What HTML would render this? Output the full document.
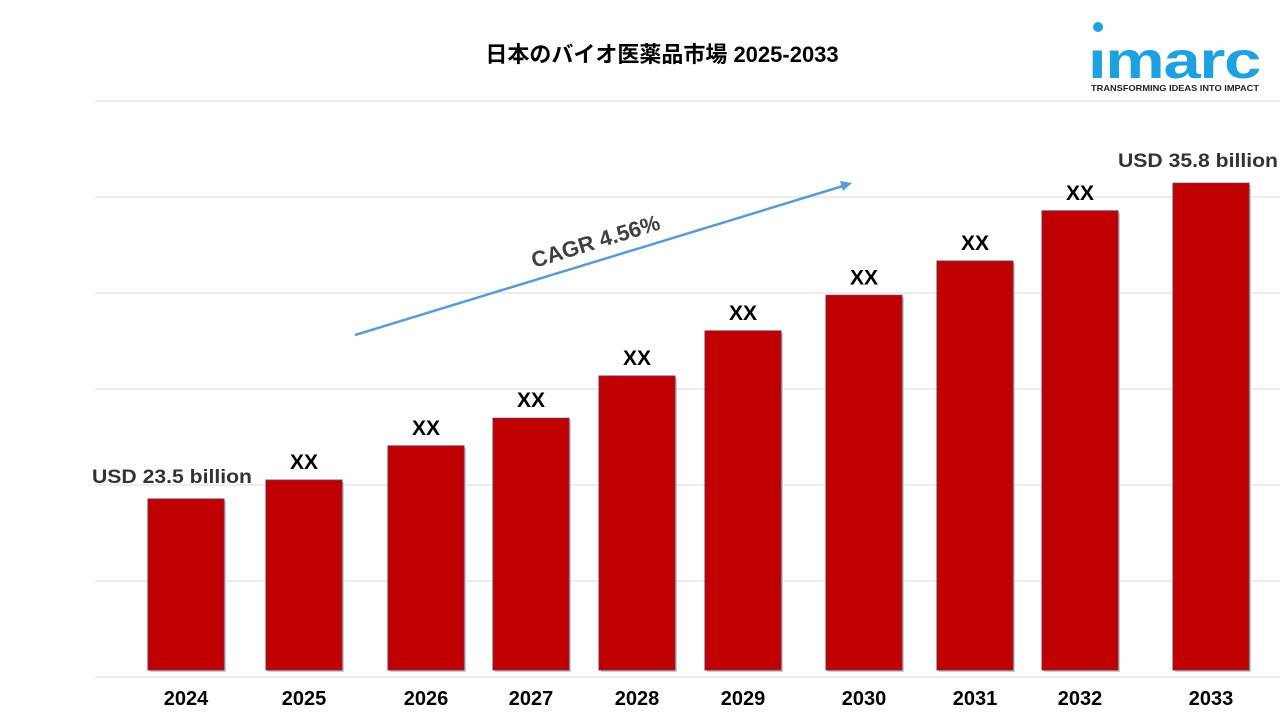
<!DOCTYPE html>
<html><head><meta charset="utf-8"><style>
body{margin:0;width:1280px;height:720px;background:#fff;overflow:hidden;font-family:"Liberation Sans","Noto Sans CJK JP",sans-serif}
svg{display:block}
</style></head><body>
<svg id="chart" width="1280" height="720">
<text x="662" y="62" text-anchor="middle" font-size="22" font-weight="bold" fill="#000">日本のバイオ医薬品市場  2025-2033</text>
<g>
<circle cx="1098" cy="27" r="5" fill="#1ea1e3"/>
<text x="1088" y="78" font-size="52" font-weight="bold" fill="#1ea1e3" letter-spacing="-1" textLength="172" lengthAdjust="spacingAndGlyphs">ımarc</text>
<text x="1091" y="91" font-size="8.5" font-weight="bold" fill="#222" textLength="168" lengthAdjust="spacingAndGlyphs">TRANSFORMING IDEAS INTO IMPACT</text>
</g>
<g id="grid"></g>
<g id="bars"></g>
<g>
<line x1="355" y1="335" x2="843" y2="186" stroke="#5b9bd5" stroke-width="2.5"/>
<polygon points="852,183 840,181 843,191" fill="#5b9bd5"/>
<text x="0" y="0" font-size="22" font-weight="bold" fill="#404040" transform="translate(534,268) rotate(-17)">CAGR  4.56%</text>
</g>
</svg>
<script>
const years=["2024","2025","2026","2027","2028","2029","2030","2031","2032","2033"];
const values=[23.5,26.1,30.8,34.6,40.4,46.6,51.5,56.2,63.1,66.9];
const labels=["USD 23.5 billion","XX","XX","XX","XX","XX","XX","XX","XX","USD 35.8 billion"];
const gridTicks=[0,1,2,3,4,5,6];
const ns="http://www.w3.org/2000/svg";
const base=670, pxPerUnit=171/23.5;
const xLeft=[148,266,388,493,599,705,826,937,1042,1173];
const bw=76;
function y(v){return base-v*pxPerUnit;}
const grid=document.getElementById('grid');
gridTicks.forEach(t=>{
 const l=document.createElementNS(ns,'line');
 const gy=677-t*96;
 l.setAttribute('x1',95);l.setAttribute('x2',1280);l.setAttribute('y1',gy);l.setAttribute('y2',gy);
 l.setAttribute('stroke','#d9d9d9');l.setAttribute('stroke-width','1');
 
 
 grid.appendChild(l);
});
const g=document.getElementById('bars');
years.forEach((yr,i)=>{
 const x=xLeft[i], top=y(values[i]);
 const r=document.createElementNS(ns,'rect');
 r.setAttribute('x',x+2);r.setAttribute('y',top+2);r.setAttribute('width',bw);r.setAttribute('height',base-top);
 r.setAttribute('fill','#ccc');
 
 
 g.appendChild(r);
 const b=document.createElementNS(ns,'rect');
 b.setAttribute('x',x);b.setAttribute('y',top);b.setAttribute('width',bw);b.setAttribute('height',base-top);
 b.setAttribute('fill','#c00000');b.setAttribute('stroke','#7a2a4a');b.setAttribute('stroke-width','1');
 
 
 g.appendChild(b);
 const isXX=labels[i]==='XX';
 const t=document.createElementNS(ns,'text');
 let cx=x+bw/2;
 if(i===0)cx=172;
 if(i===years.length-1)cx=1198;
 t.setAttribute('x',cx);t.setAttribute('y',isXX?top-11:top-16);
 t.setAttribute('text-anchor','middle');t.setAttribute('font-weight','bold');
 t.setAttribute('font-size',isXX?'21':'19');
 if(!isXX){t.setAttribute('textLength','160');t.setAttribute('lengthAdjust','spacingAndGlyphs');}
 t.setAttribute('fill',isXX?'#000':'#333');
 t.textContent=labels[i];
 
 
 g.appendChild(t);
 const xl=document.createElementNS(ns,'text');
 xl.setAttribute('x',x+bw/2);xl.setAttribute('y',705);
 xl.setAttribute('text-anchor','middle');xl.setAttribute('font-weight','bold');xl.setAttribute('font-size','20');
 xl.textContent=yr;
 
 
 g.appendChild(xl);
});
</script>
</body></html>
